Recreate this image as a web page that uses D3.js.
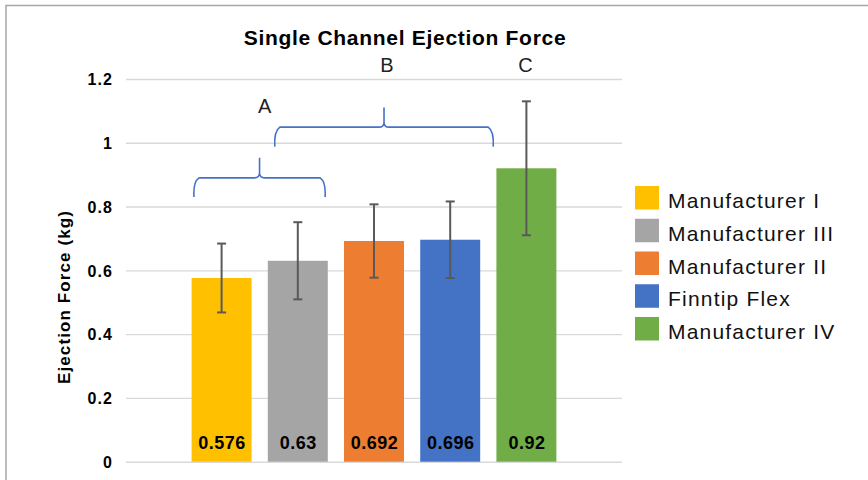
<!DOCTYPE html>
<html>
<head>
<meta charset="utf-8">
<script src="https://cdn.jsdelivr.net/npm/d3@7"></script>
<style>
  body { margin: 0; background: #fff; }
  svg { display: block; font-family: "Liberation Sans", Arial, Helvetica, sans-serif; }
</style>
</head>
<body>
<div id="chart"></div>
<script>
// chart data
const series = ["Manufacturer I", "Manufacturer III", "Manufacturer II", "Finntip Flex", "Manufacturer IV"];
const values = [0.576, 0.63, 0.692, 0.696, 0.92];
const errors = [0.108, 0.121, 0.115, 0.12, 0.21];
const colors = ["#FFC000", "#A5A5A5", "#ED7D31", "#4472C4", "#70AD47"];
const yTicks = [0, 0.2, 0.4, 0.6, 0.8, 1, 1.2];

// significance braces: from bar i (fraction of bar width) to bar j, heights in kg
const braceFrom = [[0, 0.04], [1, 0.117]];
const braceTo = [[1, 0.955], [3, 1.217]];
const braceLevels = [[0.83, 0.89, 0.953], [0.988, 1.049, 1.111]];
const groupLabels = ["A", "B", "C"];
const groupAnchor = [[0, 1.217, 1.093], [2, 0.717, 1.222], [4, 0.483, 1.222]];

const width = 868, height = 480;
const plot = { left: 126, right: 622, top: 79, bottom: 461.7 };

const svg = d3.select("#chart").append("svg")
  .attr("width", width)
  .attr("height", height);

svg.append("rect").attr("width", width).attr("height", height).attr("fill", "#fff");

// outer frame (only top and left visible)
svg.append("path")
  .attr("d", `M6,${height} L6,5.5 L${width},5.5`)
  .attr("fill", "none")
  .attr("stroke", "#a6a6a6")
  .attr("stroke-width", 1.5);

const x = d3.scaleBand()
  .domain(series)
  .range([plot.left, plot.right])
  .paddingInner(0.213)
  .paddingOuter(0.861);

const y = d3.scaleLinear()
  .domain([0, 1.2])
  .range([plot.bottom, plot.top]);

const bw = x.bandwidth();
const xAt = (i, f) => x(series[i]) + f * bw;

// gridlines + tick labels
const yAxis = svg.append("g")
  .attr("transform", `translate(${plot.left},0)`)
  .call(d3.axisLeft(y).tickValues(yTicks).tickSize(-(plot.right - plot.left)).tickFormat(d3.format("")));
yAxis.select(".domain").remove();
yAxis.selectAll(".tick line").attr("stroke", "#d9d9d9").attr("stroke-width", 1.4);
yAxis.selectAll(".tick text")
  .attr("x", -13)
  .attr("dy", "0.36em")
  .style("font-size", "16px")
  .style("font-weight", "bold")
  .style("letter-spacing", "1.1px")
  .attr("fill", "#000");

// bars
svg.selectAll(".bar")
  .data(series)
  .enter()
  .append("rect")
  .attr("class", "bar")
  .attr("x", (d) => x(d))
  .attr("y", (d, i) => y(values[i]))
  .attr("width", bw)
  .attr("height", (d, i) => y(0) - y(values[i]))
  .attr("fill", (d, i) => colors[i]);

// error bars
const err = svg.selectAll(".err")
  .data(series)
  .enter()
  .append("g")
  .attr("class", "err")
  .attr("stroke", "#595959")
  .attr("stroke-width", 2);

err.append("line")
  .attr("x1", (d) => x(d) + bw / 2)
  .attr("x2", (d) => x(d) + bw / 2)
  .attr("y1", (d, i) => y(values[i] + errors[i]))
  .attr("y2", (d, i) => y(values[i] - errors[i]));
err.append("line")
  .attr("x1", (d) => x(d) + bw / 2 - 4.5)
  .attr("x2", (d) => x(d) + bw / 2 + 4.5)
  .attr("y1", (d, i) => y(values[i] + errors[i]))
  .attr("y2", (d, i) => y(values[i] + errors[i]));
err.append("line")
  .attr("x1", (d) => x(d) + bw / 2 - 4.5)
  .attr("x2", (d) => x(d) + bw / 2 + 4.5)
  .attr("y1", (d, i) => y(values[i] - errors[i]))
  .attr("y2", (d, i) => y(values[i] - errors[i]));

// value labels
svg.selectAll(".val")
  .data(series)
  .enter()
  .append("text")
  .attr("class", "val")
  .attr("x", (d) => x(d) + bw / 2 + 0.5)
  .attr("y", 449)
  .attr("text-anchor", "middle")
  .style("font-size", "18px")
  .style("font-weight", "bold")
  .style("letter-spacing", "0.5px")
  .text((d, i) => values[i]);

// braces
function bracePath(x0, x1, lv) {
  const yb = y(lv[0]), yh = y(lv[1]), yt = y(lv[2]);
  const xm = (x0 + x1) / 2, r = 5;
  return `M${x0},${yb} Q${x0 - 1},${yh + 4} ${x0 + r},${yh} L${xm - r},${yh} Q${xm},${yh} ${xm},${yh - r} L${xm},${yt}` +
    ` M${xm},${yh - r} Q${xm},${yh} ${xm + r},${yh} L${x1 - r},${yh} Q${x1 + 1},${yh + 4} ${x1},${yb}`;
}

svg.selectAll(".brace")
  .data(braceLevels)
  .enter()
  .append("path")
  .attr("class", "brace")
  .attr("d", (lv, k) => bracePath(xAt(braceFrom[k][0], braceFrom[k][1]), xAt(braceTo[k][0], braceTo[k][1]), lv))
  .attr("fill", "none")
  .attr("stroke", "#4472C4")
  .attr("stroke-width", 1.6);

svg.selectAll(".grp")
  .data(groupLabels)
  .enter()
  .append("text")
  .attr("class", "grp")
  .attr("x", (d, i) => xAt(groupAnchor[i][0], groupAnchor[i][1]))
  .attr("y", (d, i) => y(groupAnchor[i][2]))
  .attr("text-anchor", "middle")
  .style("font-size", "20px")
  .attr("fill", "#222")
  .text((d) => d);

// title
svg.append("text")
  .attr("x", 405)
  .attr("y", 45)
  .attr("text-anchor", "middle")
  .style("font-size", "21px")
  .style("font-weight", "bold")
  .style("letter-spacing", "0.7px")
  .text("Single Channel Ejection Force");

// y axis title
svg.append("text")
  .attr("transform", "translate(70,297) rotate(-90)")
  .attr("text-anchor", "middle")
  .style("font-size", "17px")
  .style("font-weight", "bold")
  .style("letter-spacing", "1.1px")
  .text("Ejection Force (kg)");

// legend
const legend = svg.selectAll(".legend")
  .data(series)
  .enter()
  .append("g")
  .attr("class", "legend")
  .attr("transform", (d, i) => `translate(635,${186 + i * 32.75})`);

legend.append("rect")
  .attr("width", 24)
  .attr("height", 23.5)
  .attr("fill", (d, i) => colors[i]);

legend.append("text")
  .attr("x", 33)
  .attr("y", 22)
  .style("font-size", "21px")
  .style("letter-spacing", "1.2px")
  .attr("fill", "#111")
  .text((d) => d);
</script>
</body>
</html>
